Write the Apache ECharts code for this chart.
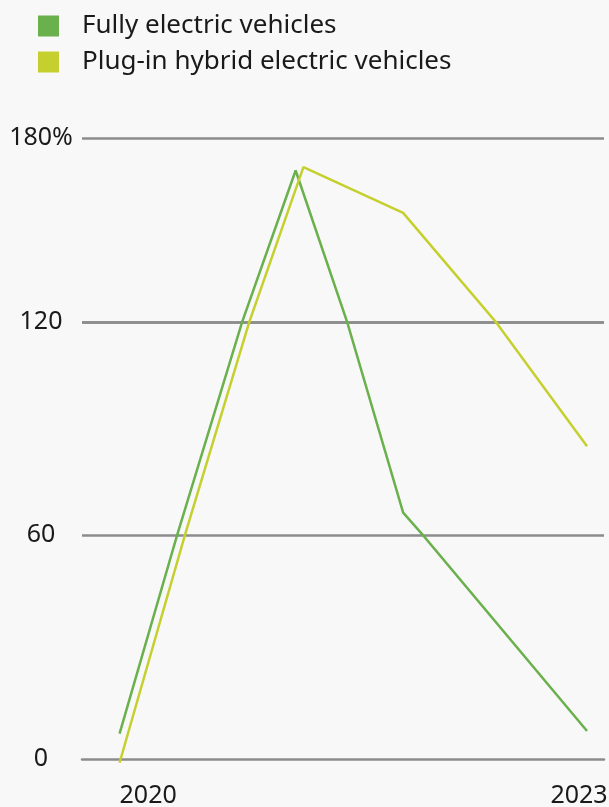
<!DOCTYPE html>
<html>
<head>
<meta charset="utf-8">
<script src="https://cdn.jsdelivr.net/npm/echarts@6/dist/echarts.min.js"></script>
<style>
  html, body { margin: 0; padding: 0; background: #f8f8f8; }
  #chart { width: 609px; height: 807px; }
</style>
</head>
<body>
<div id="chart"></div>
<script>
// Year-on-year growth of electric vehicle sales (%), dated points as fractional years
const seriesNames = ['Fully electric vehicles', 'Plug-in hybrid electric vehicles'];
const bevDates = [2020, 2021.13, 2021.82, 2023];
const bevGrowth = [6.8, 169.4, 66.3, 7.5];
const phevDates = [2020, 2021.18, 2021.82, 2023];
const phevGrowth = [-1.0, 170.5, 155.6, 85];
const yearTicks = [2020, 2023];
const valueTicks = [0, 60, 120, 180];

const colors = ['#6ab04c', '#c5d02e'];
const gridColor = '#8c8c8c';
const textColor = '#1a1a1a';
const fontFamily = '"Noto Sans", sans-serif';

// The value scale is split into three stacked bands, each with its own y axis
const bands = [
  { min: valueTicks[2], max: valueTicks[3], top: 138, height: 184, labels: [180] },
  { min: valueTicks[1], max: valueTicks[2], top: 322, height: 213, labels: [60, 120] },
  { min: -6, max: valueTicks[1], top: 535, height: 246.4, labels: [0] }
];

const xMin = 2019.759, xMax = 2023.109;

const pairs = (xs, ys) => xs.map((x, i) => [x, ys[i]]);
const lineData = [pairs(bevDates, bevGrowth), pairs(phevDates, phevGrowth)];

const labelText = { fontFamily, fontSize: 25, color: textColor };

const grids = [], xAxes = [], yAxes = [], series = [];
bands.forEach((b, i) => {
  const last = i === bands.length - 1;
  grids.push({ left: 82, right: 5, top: b.top, height: b.height, outerBoundsMode: 'none', containLabel: false });
  xAxes.push({
    type: 'value', gridIndex: i, min: xMin, max: xMax,
    show: last,
    splitLine: { show: false },
    axisTick: { show: false },
    axisLine: { show: last, onZero: true, lineStyle: { color: gridColor, width: 2.5 } },
    axisLabel: {
      show: last,
      customValues: yearTicks,
      margin: 2,
      ...labelText,
      alignMinLabel: 'left',
      alignMaxLabel: 'center',
      hideOverlap: false,
      formatter: v => (v === yearTicks[1] ? '{end|' + v + '}' : '{start|' + v + '}'),
      rich: {
        start: { ...labelText },
        end: { ...labelText, padding: [0, 16, 0, 0] }
      }
    }
  });
  yAxes.push({
    type: 'value', gridIndex: i, min: b.min, max: b.max,
    interval: last ? 66 : 60,
    axisLine: { show: false },
    axisTick: { show: false },
    splitLine: { show: !last, lineStyle: { color: gridColor, width: 2.5 } },
    axisLabel: {
      customValues: b.labels,
      align: 'center',
      margin: 41,
      ...labelText,
      formatter: v => (v === 180 ? v + '%' : String(v))
    }
  });
  seriesNames.forEach((name, k) => {
    series.push({
      name, type: 'line', xAxisIndex: i, yAxisIndex: i,
      data: lineData[k], symbol: 'none', clip: true,
      color: colors[k],
      lineStyle: { color: colors[k], width: 2.5 }
    });
  });
});

const chart = echarts.init(document.getElementById('chart'), null, { renderer: 'canvas' });
chart.setOption({
  backgroundColor: '#f8f8f8',
  animation: false,
  legend: {
    data: seriesNames,
    orient: 'vertical',
    left: 33, top: 8,
    icon: 'rect',
    itemWidth: 21, itemHeight: 21, itemGap: 10,
    textStyle: { color: textColor, fontFamily, fontSize: 26, lineHeight: 26, padding: [0, 0, 0, 18] }
  },
  grid: grids,
  xAxis: xAxes,
  yAxis: yAxes,
  series
});
</script>
</body>
</html>
